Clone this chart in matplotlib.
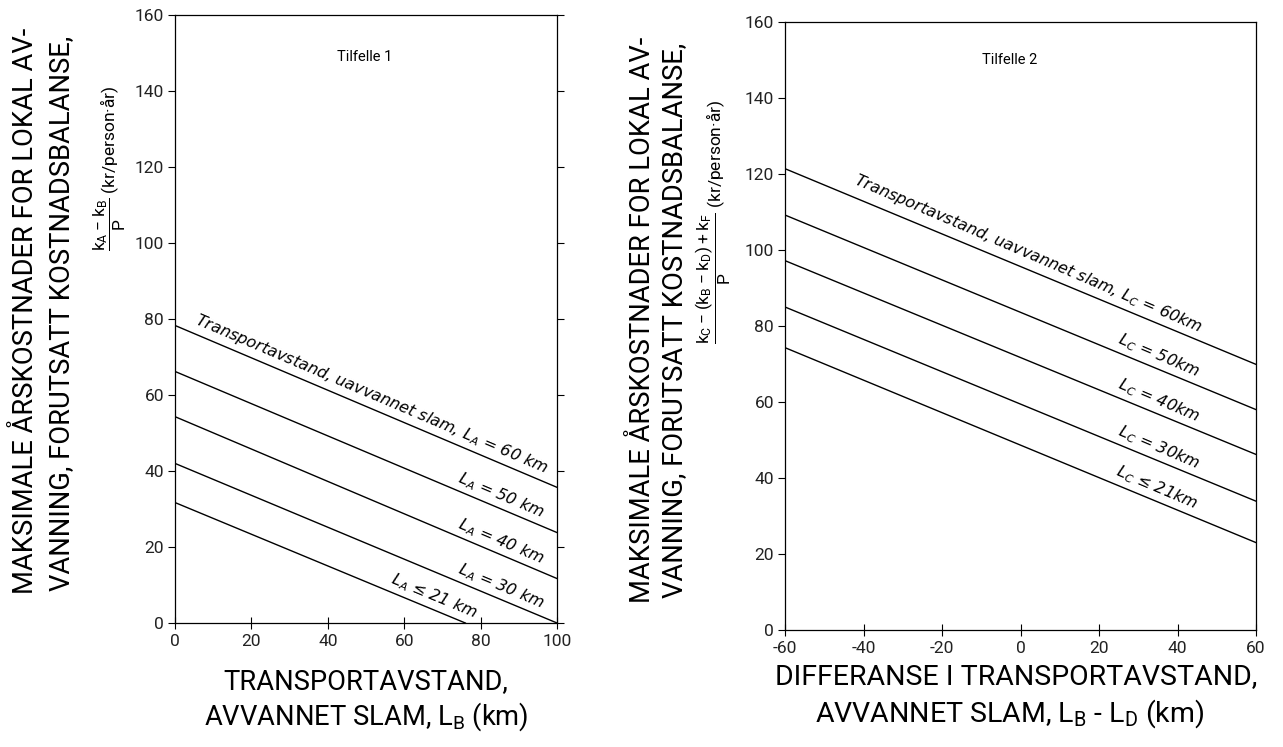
import numpy as np
import matplotlib
matplotlib.use("Agg")
import matplotlib.pyplot as plt

plt.rcParams['font.family'] = ['Roboto', 'DejaVu Sans']
plt.rcParams['mathtext.default'] = 'regular'
plt.rcParams['axes.unicode_minus'] = False

# Tilfelle 1: x = L_B (km), y = (k_A - k_B)/P
dist_a = [60, 50, 40, 30, 21]
left_x_end = [100, 100, 100, 100, 76]
left_y_start = [78.3, 66.2, 54.3, 42.0, 31.7]
left_y_end = [35.7, 23.8, 11.7, 0.0, 0.0]
left_labels = ["Transportavstand, uavvannet slam, $L_A$ = 60 km",
               "$L_A$ = 50 km", "$L_A$ = 40 km", "$L_A$ = 30 km", "$L_A$ ≤ 21 km"]
left_label_x = [96.5, 95.5, 95.5, 95.5, 78]

# Tilfelle 2: x = L_B - L_D (km)
dist_c = [60, 50, 40, 30, 21]
right_y_start = [121.4, 109.2, 97.2, 85.0, 74.3]
right_y_end = [69.9, 58.0, 46.2, 33.9, 23.0]
right_labels = ["Transportavstand, uavvannet slam, $L_C$ = 60km",
                "$L_C$ = 50km", "$L_C$ = 40km", "$L_C$ = 30km", "$L_C$ ≤ 21km"]
right_label_x = [45, 44.5, 44.5, 44.5, 44]

W, H = 1283, 747
fig = plt.figure(figsize=(W/100, H/100), dpi=100)

def px_axes(x0, y0, x1, y1):
    return fig.add_axes([x0/W, 1-y1/H, (x1-x0)/W, (y1-y0)/H])

def style_axes(ax, right_ticks):
    for s in ax.spines.values():
        s.set_linewidth(0.9)
    ax.tick_params(axis='y', direction='out', length=5, width=0.8, labelsize=12.5,
                   right=right_ticks, pad=3, labelcolor='#222222')
    ax.tick_params(axis='x', direction='inout', length=8, width=0.8, labelsize=12.5,
                   pad=4, labelcolor='#222222')
    ax.set_ylim(0, 160)
    ax.set_yticks(np.arange(0, 161, 20))

def label_line(ax, x0, y0, x1, y1, xl, txt):
    ang = np.degrees(np.arctan2(y1-y0, x1-x0))
    yl = y0 + (y1-y0)*(xl-x0)/(x1-x0)
    ax.annotate(txt, (xl, yl), xytext=(0, 2.5), textcoords='offset points',
                rotation=ang, rotation_mode='anchor', transform_rotates_text=True,
                ha='right', va='bottom', fontsize=11.5, style='italic',
                family=['DejaVu Sans'], annotation_clip=False)

# left panel
ax1 = px_axes(175, 15, 557, 623)
ax1.set_xlim(0, 100)
ax1.set_xticks(np.arange(0, 101, 20))
style_axes(ax1, True)
for xe, ys, ye, lab, xl in zip(left_x_end, left_y_start, left_y_end, left_labels, left_label_x):
    ax1.plot([0, xe], [ys, ye], color='black', lw=1.0)
    label_line(ax1, 0, ys, xe, ye, xl, lab)
ax1.text(49.7, 149, "Tilfelle 1", ha='center', va='center', fontsize=10.5)

# right panel
ax2 = px_axes(785, 22, 1256, 630)
ax2.set_xlim(-60, 60)
ax2.set_xticks(np.arange(-60, 61, 20))
style_axes(ax2, False)
for ys, ye, lab, xl in zip(right_y_start, right_y_end, right_labels, right_label_x):
    ax2.plot([-60, 60], [ys, ye], color='black', lw=1.0)
    label_line(ax2, -60, ys, 60, ye, xl, lab)
ax2.text(-2.7, 150, "Tilfelle 2", ha='center', va='center', fontsize=10.5)

# axis labels
big = 19.7
def ftext(x, y, s, **kw):
    fig.text(x/W, 1-y/H, s, ha='center', va='center', **kw)

ftext(26, 311, "MAKSIMALE ÅRSKOSTNADER FOR LOKAL AV-", rotation=90, fontsize=big)
ftext(62, 313, "VANNING, FORUTSATT KOSTNADSBALANSE,", rotation=90, fontsize=big)
ftext(110, 168, r"$\dfrac{k_A - k_B}{P}$ (kr/person·år)", rotation=90, fontsize=12.5)

ftext(642, 320, "MAKSIMALE ÅRSKOSTNADER FOR LOKAL AV-", rotation=90, fontsize=big)
ftext(675, 320, "VANNING, FORUTSATT KOSTNADSBALANSE,", rotation=90, fontsize=big)
ftext(713, 222, r"$\dfrac{k_C - (k_B - k_D) + k_F}{P}$ (kr/person·år)", rotation=90, fontsize=12.5)

ftext(366, 682, "TRANSPORTAVSTAND,", fontsize=big)
ftext(366, 717, "AVVANNET SLAM, $L_B$ (km)", fontsize=big)
ftext(1016, 677, "DIFFERANSE I TRANSPORTAVSTAND,", fontsize=20.5)
ftext(1010, 714, "AVVANNET SLAM, $L_B$ - $L_D$ (km)", fontsize=20.5)

fig.savefig("out.png", dpi=100)
